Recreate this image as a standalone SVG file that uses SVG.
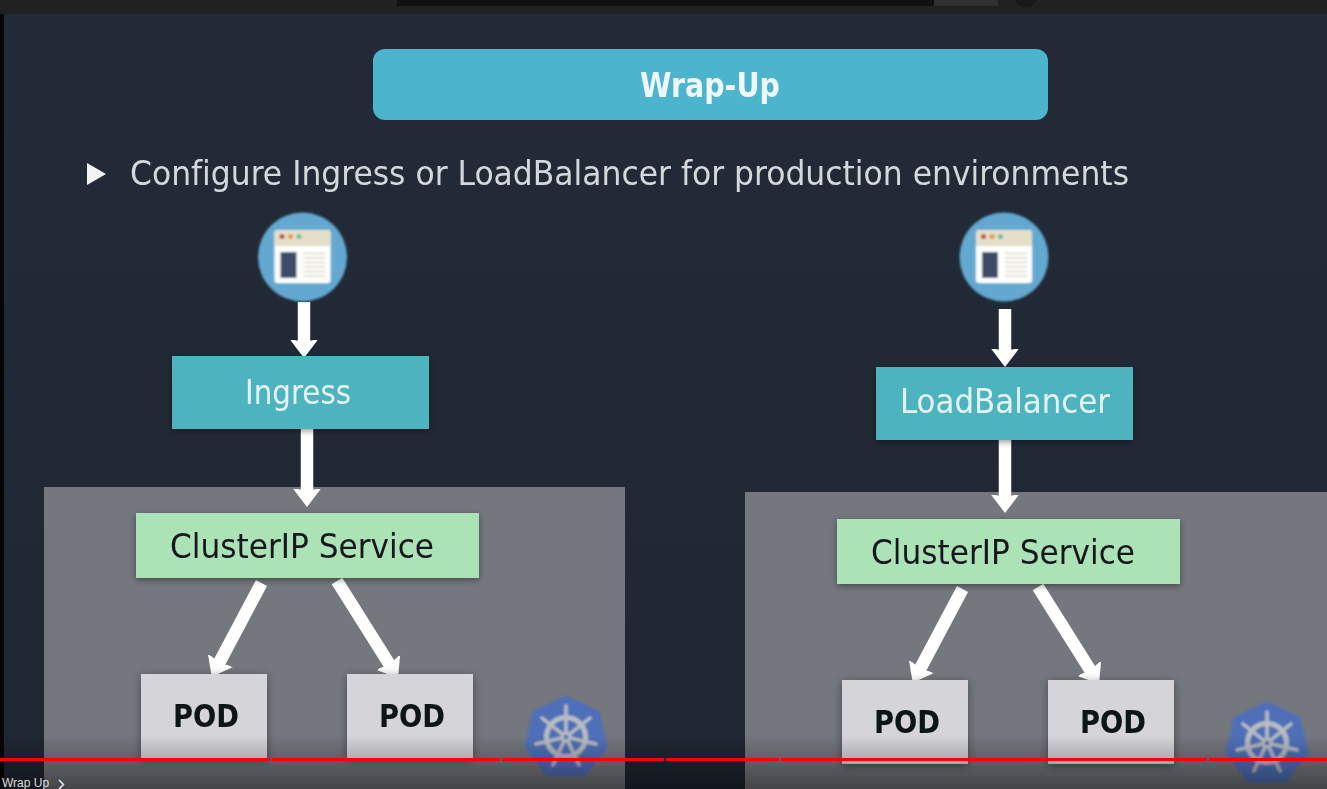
<svg xmlns="http://www.w3.org/2000/svg" width="1327" height="789" viewBox="0 0 1327 789">
<style>
text{font-family:"DejaVu Sans Condensed","DejaVu Sans",sans-serif;font-stretch:condensed;font-variant-ligatures:none;filter:url(#textsoft)}
.cluster{fill:#74777d}
.teal{fill:#4db3be;filter:url(#sh)}
.green{fill:#abe3b6;filter:url(#sh)}
.pod{fill:#d5d5d9;filter:url(#sh2)}
.lbl{font-size:34px;text-anchor:middle}
.dark{fill:#15191c}
.podt{font-size:32px;font-weight:700;text-anchor:middle;fill:#101316}
.light{fill:#e4f4f6}
.arr{stroke:#fff;stroke-width:12.500;fill:none;marker-end:url(#head)}
.prog{fill:#f00}
</style>
<defs>
<linearGradient id="bg" x1="0" y1="0" x2="0" y2="1"><stop offset="0" stop-color="#232b38"/><stop offset="1" stop-color="#1f2733"/></linearGradient>
<linearGradient id="fade" x1="0" y1="0" x2="0" y2="1"><stop offset="0" stop-color="#000" stop-opacity="0"/><stop offset="1" stop-color="#000" stop-opacity=".42"/></linearGradient>
<filter id="sh" x="-10%" y="-15%" width="120%" height="135%"><feDropShadow dx="0" dy="2" stdDeviation="3" flood-color="#000" flood-opacity=".4"/></filter>
<filter id="sh2" x="-15%" y="-15%" width="130%" height="135%"><feDropShadow dx="0" dy="2" stdDeviation="5" flood-color="#000" flood-opacity=".4"/></filter>
<filter id="soft" x="-5%" y="-5%" width="110%" height="110%"><feGaussianBlur stdDeviation=".8"/></filter>
<filter id="textsoft" x="-2%" y="-10%" width="104%" height="120%"><feGaussianBlur stdDeviation=".4"/></filter>
<marker id="head" markerUnits="userSpaceOnUse" markerWidth="30" markerHeight="30" refX="8" refY="15" orient="auto"><path d="M-1 .5L18 15L-1 29.500L2 15Z" fill="#fff"/></marker>
<g id="browser" filter="url(#soft)">
<circle cx="0" cy="0" r="44.5" fill="#62a8d0"/>
<rect x="-28" y="-27" width="56" height="53" rx="3" fill="#fff"/>
<path d="M-28-24a3 3 0 0 1 3-3h50a3 3 0 0 1 3 3v13h-56z" fill="#e4dfc9"/>
<circle cx="-20.500" cy="-20.500" r="2.600" fill="#c0483f"/><circle cx="-12" cy="-20.500" r="2.600" fill="#e39a3c"/><circle cx="-3.500" cy="-20.500" r="2.600" fill="#6cc09a"/>
<rect x="-22" y="-5" width="16" height="26" fill="#3e4c68"/>
<path d="M1-3.500h22M1 1h22M1 5.500h22M1 10h22M1 14.500h22M1 19h22" stroke="#d9d5c2" stroke-width="1.300"/>
</g>
<g id="k8s" filter="url(#soft)">
<path d="M0-40L32-25L40 9.500L18 38L-18 38L-40 9.500L-32-25Z" fill="#5070b8" stroke="#5070b8" stroke-width="3" stroke-linejoin="round"/>
<circle r="19.500" fill="none" stroke="#b9bdc3" stroke-width="5"/>
<circle r="4" fill="none" stroke="#b9bdc3" stroke-width="3"/>
<path d="M0-4V-31M3.100-2.500L24-19M3.900 .9L30 7M1.700 3.600L13 28M-1.700 3.600L-13 28M-3.900 .9L-30 7M-3.100-2.500L-24-19" stroke="#b9bdc3" stroke-width="3.500" stroke-linecap="round"/>
</g>
</defs>
<rect width="1327" height="789" fill="url(#bg)"/>
<rect width="4" height="789" fill="#050505"/>
<rect width="1327" height="14" fill="#212121"/>
<rect x="397" width="537" height="6" fill="#111"/>
<rect x="934" width="64" height="6" fill="#303030"/>
<circle cx="1026" cy="-5" r="12" fill="#181818"/>

<g id="title"><rect x="373" y="49" width="675" height="71" rx="12" fill="#4db4cd"/>
<text x="710" y="97" font-size="34" font-weight="700" text-anchor="middle" fill="#eef7f9" textLength="140" lengthAdjust="spacingAndGlyphs">Wrap-Up</text></g>
<g id="bullet"><path d="M87 163L106 174L87 185Z" fill="#f2f4f5"/>
<text x="130" y="185" font-size="34" fill="#d4d8dc" textLength="999" lengthAdjust="spacingAndGlyphs">Configure Ingress or LoadBalancer for production environments</text></g>

<g id="cluster-left"><rect class="cluster" x="44" y="487" width="581" height="302"/><use href="#k8s" x="566" y="737"/></g>
<g id="cluster-right"><rect class="cluster" x="745" y="492" width="582" height="297"/><use href="#k8s" x="1267" y="743"/></g>

<g id="connectors">
<path class="arr" d="M304 302V348"/>
<path class="arr" d="M307 429V497"/>
<path class="arr" d="M261.500 583L216.400 668"/>
<path class="arr" d="M337 581L392.700 669.500"/>
<path class="arr" d="M1005 309V357"/>
<path class="arr" d="M1005 434V503"/>
<path class="arr" d="M962.500 589L917.400 674"/>
<path class="arr" d="M1038 587L1093.700 675.500"/>
</g>

<g id="browser-left"><use href="#browser" x="302.500" y="257"/></g>
<g id="browser-right"><use href="#browser" x="1004" y="257"/></g>

<g id="ingress"><rect class="teal" x="172" y="356" width="257" height="73"/><text class="lbl light" x="298" y="404" textLength="106" lengthAdjust="spacingAndGlyphs">Ingress</text></g>
<g id="loadbalancer"><rect class="teal" x="876" y="367" width="257" height="73"/><text class="lbl light" x="1005" y="413" textLength="210" lengthAdjust="spacingAndGlyphs">LoadBalancer</text></g>
<g id="clusterip-left"><rect class="green" x="136" y="513" width="343" height="65"/><text class="lbl dark" x="302" y="558" textLength="264" lengthAdjust="spacingAndGlyphs">ClusterIP Service</text></g>
<g id="clusterip-right"><rect class="green" x="837" y="519" width="343" height="65"/><text class="lbl dark" x="1003" y="564" textLength="264" lengthAdjust="spacingAndGlyphs">ClusterIP Service</text></g>
<g id="pod-1"><rect class="pod" x="141" y="674" width="126" height="84"/><text class="podt" x="206" y="727" textLength="66" lengthAdjust="spacingAndGlyphs">POD</text></g>
<g id="pod-2"><rect class="pod" x="347" y="674" width="126" height="84"/><text class="podt" x="412" y="727" textLength="66" lengthAdjust="spacingAndGlyphs">POD</text></g>
<g id="pod-3"><rect class="pod" x="842" y="680" width="126" height="84"/><text class="podt" x="907" y="733" textLength="66" lengthAdjust="spacingAndGlyphs">POD</text></g>
<g id="pod-4"><rect class="pod" x="1048" y="680" width="126" height="84"/><text class="podt" x="1113" y="733" textLength="66" lengthAdjust="spacingAndGlyphs">POD</text></g>

<rect y="735" width="1327" height="54" fill="url(#fade)"/>
<g id="progress">
<rect class="prog" y="758" width="270" height="3"/>
<rect class="prog" x="272" y="758" width="228" height="3"/>
<rect class="prog" x="502" y="758" width="162" height="3"/>
<rect class="prog" x="666" y="758" width="113" height="3"/>
<rect class="prog" x="781" y="758" width="426" height="3"/>
<rect class="prog" x="1209" y="758" width="118" height="3"/>
</g>
<text x="2" y="787" font-size="12" fill="#ddd" style="font-family:'Liberation Sans',sans-serif;filter:none">Wrap Up</text>
<path d="M59 780L63.500 784.500L59 789" fill="none" stroke="#eee" stroke-width="1.500"/>
</svg>
